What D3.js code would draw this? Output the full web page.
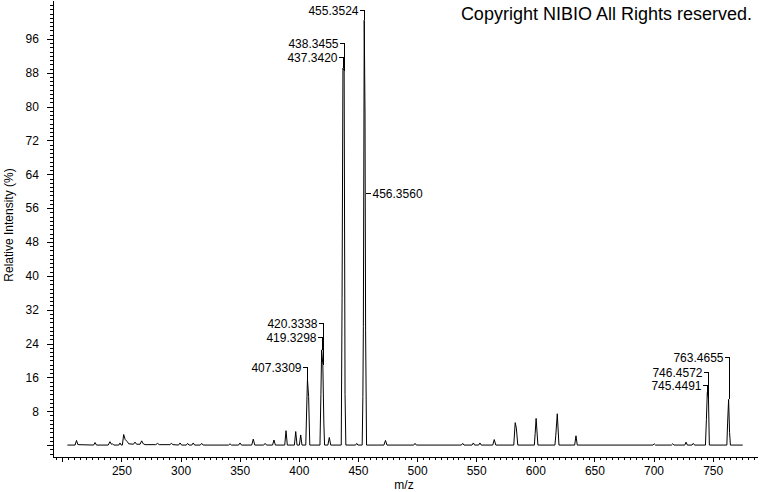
<!DOCTYPE html>
<html>
<head>
<meta charset="utf-8">
<script src="https://cdn.jsdelivr.net/npm/d3@7"></script>
<style>
  html, body { margin: 0; padding: 0; background: #fff; }
  svg { display: block; }
  text { font-family: "Liberation Sans", Arial, sans-serif; fill: #000; }
</style>
</head>
<body>
<svg id="chart" width="760" height="492"></svg>
<script>
// ====== DATA ======
// profile trace of the spectrum: [m/z, relative intensity %]
const profile = [
  [204.3, 0],
  [210.8, 0], [212.0, 1.1], [213.2, 0.1],
  [226.5, 0], [227.7, 0.6], [228.9, 0],
  [238.8, 0], [240.3, 0.8], [241.5, 0.2], [242.5, 0.3], [243.5, 0],
  [247.8, 0], [248.8, 0.5], [249.8, 0],
  [250.8, 0], [251.9, 2.5], [253.2, 1.3], [255.0, 0.8], [256.2, 0.3],
  [260.2, 0.2], [261.5, 0.7], [262.8, 0.2],
  [265.8, 0.2], [267.1, 1.0], [268.5, 0.3], [270.0, 0.1],
  [279.0, 0.1], [280.5, 0.4], [282.0, 0.1],
  [291.0, 0.1], [292.3, 0.4], [293.6, 0.1],
  [298.3, 0], [299.6, 0.5], [300.9, 0],
  [304.8, 0], [306.0, 0.4], [307.2, 0],
  [309.5, 0], [310.7, 0.5], [311.9, 0],
  [316.7, 0], [317.9, 0.4], [319.1, 0],
  [340.6, 0], [341.8, 0.3], [343.0, 0],
  [349.1, 0], [350.3, 0.5], [351.5, 0],
  [360.2, 0], [361.5, 1.4], [362.8, 0],
  [370.3, 0], [371.5, 0.4], [372.7, 0],
  [377.8, 0], [379.0, 1.2], [380.2, 0],
  [388.1, 0], [389.2, 3.4], [390.3, 0],
  [396.3, 0], [397.4, 3.2], [398.5, 0],
  [400.5, 0], [401.6, 2.4], [402.7, 0],
  [405.9, 0], [406.7, 9], [407.33, 15.5], [408.3, 11.5], [409.3, 0],
  [417.9, 0], [418.7, 12], [419.33, 22.5], [420.33, 19], [421.2, 5], [421.8, 0],
  [424.6, 0], [425.8, 1.8], [427.0, 0],
  [435.9, 0], [436.6, 34.7], [437.34, 89.1], [438.35, 88.5], [439.1, 12], [439.8, 0],
  [448.0, 0], [449.0, 0.4], [450.0, 0],
  [453.6, 0], [454.2, 11.5], [454.6, 28], [455.35, 100.4], [456.0, 78], [456.5, 27], [457.3, 0],
  [472.0, 0], [473.3, 1.1], [474.6, 0],
  [497.2, 0], [498.3, 0.4], [499.4, 0],
  [537.5, 0], [538.6, 0.4], [539.7, 0],
  [546.5, 0], [547.6, 0.5], [548.7, 0],
  [552.1, 0], [553.2, 0.5], [554.3, 0],
  [564.0, 0], [565.3, 1.3], [566.6, 0],
  [581.8, 0], [583.0, 5.3], [584.0, 4], [585.2, 0],
  [599.2, 0], [599.9, 2.8], [600.7, 6.3], [602.2, 0],
  [616.6, 0], [617.3, 2.2], [618.6, 7.4], [620.0, 0],
  [633.3, 0], [634.4, 2.2], [635.5, 0],
  [699.5, 0], [700.6, 0.3], [701.7, 0],
  [715.1, 0], [716.2, 0.3], [717.3, 0],
  [726.4, 0], [727.5, 0.7], [728.6, 0],
  [732.5, 0], [733.6, 0.4], [734.7, 0],
  [743.9, 0], [744.7, 6], [745.45, 12.4], [746.46, 11], [747.2, 0],
  [762.0, 0], [762.6, 5], [763.47, 10.8], [764.3, 3], [765.0, 0],
  [775.4, 0]
];

// labelled centroid peaks
const peakMz = [407.3309, 419.3298, 420.3338, 437.3420, 438.3455, 455.3524, 456.3560, 745.4491, 746.4572, 763.4655];
const peakInt = [15.5, 22.5, 19, 89.1, 88.5, 100.4, 59.5, 12.4, 11, 10.8];
// intensity level at which each annotation sits, and which side it goes
const labelLevels = [18.4, 25.5, 28.9, 91.8, 95.1, 102.9, 59.5, 14.1, 17.2, 20.8];
const labelSide = ['left', 'left', 'left', 'left', 'left', 'left', 'right', 'left', 'left', 'left'];

const xMajorTicks = [200, 250, 300, 350, 400, 450, 500, 550, 600, 650, 700, 750];
const yMajorTicks = [0, 8, 16, 24, 32, 40, 48, 56, 64, 72, 80, 88, 96];
const xDomain = [192, 788];
const yDomain = [-2.7, 105.2];

const xTitle = 'm/z';
const yTitle = 'Relative Intensity (%)';
const copyright = 'Copyright NIBIO All Rights reserved.';

// ====== SCALES ======
const svg = d3.select('#chart');
const x = d3.scaleLinear().domain(xDomain).range([52.84, 757.6]);
const y = d3.scaleLinear().domain(yDomain).range([456.5, 0]);
const FONT = '"Liberation Sans", Arial, sans-serif';

// ====== AXES ======
const xMinor = d3.range(195, 786, 5);
const yMinor = d3.range(-2, 105, 1);

svg.append('g')
    .attr('transform', `translate(0, ${y.range()[0]})`)
    .attr('shape-rendering', 'crispEdges')
    .call(d3.axisBottom(x).tickValues(xMinor).tickSize(3).tickSizeOuter(0).tickFormat(''))
    .call(g => g.selectAll('line, path').attr('stroke', '#000'));

svg.append('g')
    .attr('transform', `translate(0, ${y.range()[0]})`)
    .attr('shape-rendering', 'crispEdges')
    .call(d3.axisBottom(x).tickValues(xMajorTicks).tickSize(5).tickSizeOuter(0).tickPadding(5)
        .tickFormat(d => d === 200 ? '' : d))
    .call(g => g.select('.domain').remove())
    .call(g => g.selectAll('line').attr('stroke', '#000'))
    .call(g => g.selectAll('text').attr('font-size', 12).attr('font-family', FONT).attr('fill', '#000'));

svg.append('g')
    .attr('transform', `translate(${x.range()[0]}, 0)`)
    .attr('shape-rendering', 'crispEdges')
    .call(d3.axisLeft(y).tickValues(yMinor).tickSize(3).tickSizeOuter(0).tickFormat(''))
    .call(g => g.selectAll('line, path').attr('stroke', '#000'));

svg.append('g')
    .attr('transform', `translate(${x.range()[0]}, 0)`)
    .attr('shape-rendering', 'crispEdges')
    .call(d3.axisLeft(y).tickValues(yMajorTicks).tickSize(6).tickSizeOuter(0).tickPadding(8)
        .tickFormat(d => d === 0 ? '' : d))
    .call(g => g.select('.domain').remove())
    .call(g => g.selectAll('line').attr('stroke', '#000'))
    .call(g => g.selectAll('text').attr('font-size', 12).attr('font-family', FONT).attr('fill', '#000'));

// ====== SPECTRUM ======
const line = d3.line().x(d => x(d[0])).y(d => y(d[1]));

svg.append('path')
    .datum(profile)
    .attr('d', line)
    .attr('fill', 'none')
    .attr('stroke', '#000')
    .attr('stroke-width', 1);

// ====== PEAK LABELS ======
const peaks = peakMz.map((mz, i) => ({ mz, inten: peakInt[i], level: labelLevels[i], side: labelSide[i] }));

const lab = svg.append('g').attr('class', 'peak-labels');

peaks.forEach(p => {
    const px = Math.round(x(p.mz)) + 0.5;
    const ly = Math.round(y(p.level)) + 0.5;
    if (p.side === 'left') {
        lab.append('path')
            .attr('d', `M${px - 5},${ly}H${px}V${y(p.inten)}`)
            .attr('fill', 'none')
            .attr('stroke', '#000')
            .attr('shape-rendering', 'crispEdges');
        lab.append('text')
            .attr('x', px - 6)
            .attr('y', ly)
            .attr('dy', '0.36em')
            .attr('text-anchor', 'end')
            .attr('font-size', 12)
            .text(p.mz.toFixed(4));
    } else {
        lab.append('path')
            .attr('d', `M${px},${ly}H${px + 5}`)
            .attr('fill', 'none')
            .attr('stroke', '#000')
            .attr('shape-rendering', 'crispEdges');
        lab.append('text')
            .attr('x', px + 7)
            .attr('y', ly)
            .attr('dy', '0.36em')
            .attr('font-size', 12)
            .text(p.mz.toFixed(4));
    }
});

// ====== TITLES ======
svg.append('text')
    .attr('x', 404)
    .attr('y', 489)
    .attr('text-anchor', 'middle')
    .attr('font-size', 12)
    .text(xTitle);

svg.append('text')
    .attr('transform', 'translate(13, 225) rotate(-90)')
    .attr('text-anchor', 'middle')
    .attr('font-size', 12)
    .text(yTitle);

svg.append('text')
    .attr('x', 752)
    .attr('y', 20)
    .attr('text-anchor', 'end')
    .attr('font-size', 18)
    .text(copyright);
</script>
</body>
</html>
